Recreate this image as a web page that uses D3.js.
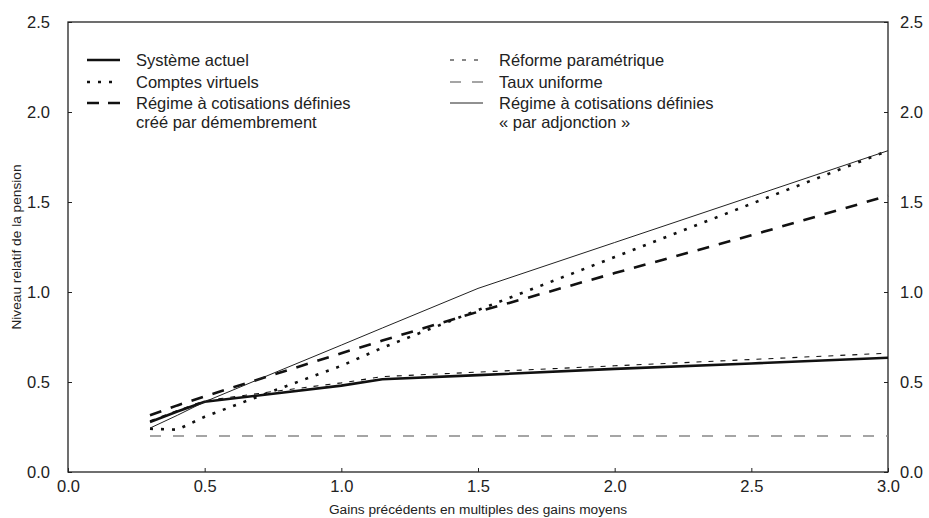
<!DOCTYPE html>
<html>
<head>
<meta charset="utf-8">
<script src="https://cdn.jsdelivr.net/npm/d3@7"></script>
<style>
  html, body { margin: 0; padding: 0; background: #fff; }
  svg { display: block; font-family: "Liberation Sans", Arial, Helvetica, sans-serif; }
</style>
</head>
<body>
<svg id="chart" width="929" height="518"></svg>
<script>
// Earnings as multiples of average earnings
const gains = [0.3, 0.4, 0.5, 0.75, 1.0, 1.15, 1.5, 2.0, 2.5, 3.0];

// Relative pension level for each scheme
const systemeActuel    = [0.278, 0.336, 0.39, 0.435, 0.48, 0.515, 0.538, 0.573, 0.603, 0.635];
const comptesVirtuels  = [0.24, 0.235, 0.307, 0.45, 0.59, 0.69, 0.9, 1.194, 1.49, 1.785];
const demembrement     = [0.315, 0.37, 0.42, 0.54, 0.66, 0.73, 0.89, 1.105, 1.315, 1.535];
const reformeParam     = [0.285, 0.342, 0.396, 0.447, 0.495, 0.53, 0.555, 0.59, 0.625, 0.66];
const tauxUniforme     = [0.2, 0.2, 0.2, 0.2, 0.2, 0.2, 0.2, 0.2, 0.2, 0.2];
const adjonction       = [0.244, 0.315, 0.39, 0.548, 0.705, 0.8, 1.02, 1.275, 1.53, 1.785];

const xTicks = [0.0, 0.5, 1.0, 1.5, 2.0, 2.5, 3.0];
const yTicks = [0.0, 0.5, 1.0, 1.5, 2.0, 2.5];

const xTitle = "Gains précédents en multiples des gains moyens";
const yTitle = "Niveau relatif de la pension";

const series = [
  { name: ["Système actuel"], values: systemeActuel, color: "#111", width: 2.6, dash: null, legendDash: null, col: 0, row: 0 },
  { name: ["Comptes virtuels"], values: comptesVirtuels, color: "#111", width: 2.6, dash: "3,8", legendDash: "3,8", col: 0, row: 1 },
  { name: ["Régime à cotisations définies", "créé par démembrement"], values: demembrement, color: "#111", width: 2.6, dash: "12,10", legendDash: "12,9", col: 0, row: 2 },
  { name: ["Réforme paramétrique"], values: reformeParam, color: "#111", width: 1.1, dash: "5,7", legendDash: "4,8", col: 1, row: 0 },
  { name: ["Taux uniforme"], values: tauxUniforme, color: "#888", width: 1.4, dash: "11,12", legendDash: "11,11", col: 1, row: 1 },
  { name: ["Régime à cotisations définies", "« par adjonction »"], values: adjonction, color: "#222", width: 1.0, dash: null, legendDash: null, col: 1, row: 2 }
];

const svg = d3.select("#chart");
const margin = { left: 68, right: 41, top: 22, bottom: 46 };
const W = 929, H = 518;

const x = d3.scaleLinear().domain([0, 3]).range([margin.left, W - margin.right]);
const y = d3.scaleLinear().domain([0, 2.5]).range([H - margin.bottom, margin.top]);

const fmt = d3.format(".1f");

// Axes with inward ticks
const gx = svg.append("g")
  .attr("transform", `translate(0,${y(0)})`)
  .call(d3.axisBottom(x).tickValues(xTicks).tickFormat(fmt).tickSize(-4).tickPadding(8));
const gyl = svg.append("g")
  .attr("transform", `translate(${x(0)},0)`)
  .call(d3.axisLeft(y).tickValues(yTicks).tickFormat(fmt).tickSize(-4).tickPadding(18));
const gyr = svg.append("g")
  .attr("transform", `translate(${x(3)},0)`)
  .call(d3.axisRight(y).tickValues(yTicks).tickFormat(fmt).tickSize(-4).tickPadding(12));

[gx, gyl, gyr].forEach(g => {
  g.select(".domain").remove();
  g.selectAll(".tick line").attr("stroke", "#222").attr("stroke-width", 1);
  g.selectAll(".tick text").attr("font-size", 16.5).attr("fill", "#222")
    .attr("font-family", "'Liberation Sans', Arial, sans-serif");
});

// Plot frame
svg.append("rect")
  .attr("x", x(0)).attr("y", y(2.5))
  .attr("width", x(3) - x(0)).attr("height", y(0) - y(2.5))
  .attr("fill", "none").attr("stroke", "#222").attr("stroke-width", 1.3);

// Axis titles
svg.append("text")
  .attr("x", (x(0) + x(3)) / 2).attr("y", 514)
  .attr("text-anchor", "middle").attr("font-size", 13.7).attr("fill", "#222")
  .text(xTitle);
svg.append("text")
  .attr("transform", `translate(21,${(y(0) + y(2.5)) / 2}) rotate(-90)`)
  .attr("text-anchor", "middle").attr("font-size", 13.7).attr("fill", "#222")
  .text(yTitle);

// Series lines
const line = d3.line().x((d, i) => x(gains[i])).y(d => y(d));
series.forEach(s => {
  svg.append("path")
    .datum(s.values)
    .attr("d", line)
    .attr("fill", "none")
    .attr("stroke", s.color)
    .attr("stroke-width", s.width)
    .attr("stroke-dasharray", s.dash)
    .attr("stroke-linejoin", "round");
});

// Legend
const legendCols = [{ x0: 87, tx: 136 }, { x0: 450, tx: 499 }];
const rowY = [60, 82, 103];
const lineGap = 19.5;
series.forEach(s => {
  const c = legendCols[s.col];
  const yy = rowY[s.row];
  svg.append("line")
    .attr("x1", c.x0).attr("x2", c.x0 + 33)
    .attr("y1", yy).attr("y2", yy)
    .attr("stroke", s.color)
    .attr("stroke-width", s.width)
    .attr("stroke-dasharray", s.legendDash);
  s.name.forEach((t, k) => {
    svg.append("text")
      .attr("x", c.tx).attr("y", yy + k * lineGap)
      .attr("dy", "0.35em")
      .attr("font-size", 16.5).attr("fill", "#222")
      .text(t);
  });
});
</script>
</body>
</html>
